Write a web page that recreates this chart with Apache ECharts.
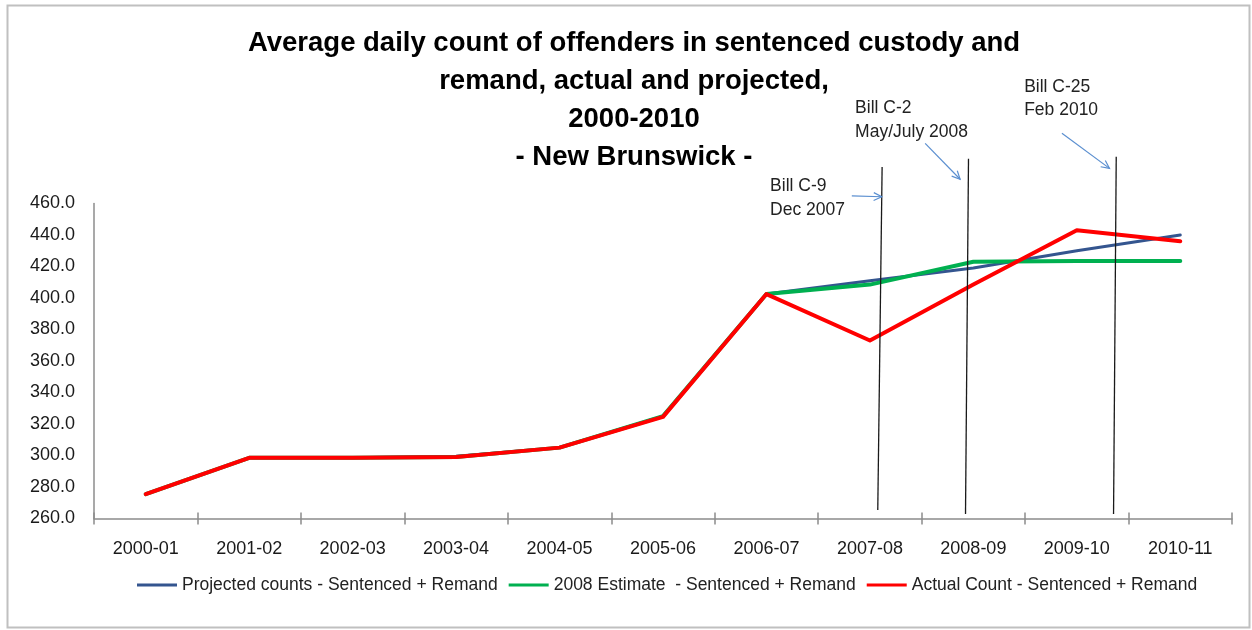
<!DOCTYPE html>
<html>
<head>
<meta charset="utf-8">
<script src="https://cdn.jsdelivr.net/npm/echarts@6/dist/echarts.min.js"></script>
<style>
html,body{margin:0;padding:0;background:#fff;}
#chart{width:1252px;height:630px;}
</style>
</head>
<body>
<div id="chart"></div>
<script>
// ---- data ----
var categories = ['2000-01','2001-02','2002-03','2003-04','2004-05','2005-06','2006-07','2007-08','2008-09','2009-10','2010-11'];
var projectedCounts = [275.5, 298.5, 298.5, 299.5, 305, 325, 402.5, 411, 419, 430, 440];
var estimate2008    = [275.5, 298.5, 298.5, 299, 305, 325, 402.5, 408.5, 423, 423.5, 423.5];
var actualCounts    = [275.5, 298.5, 298.5, 299, 305, 324.5, 402.5, 373, 408.5, 443, 436];
var seriesNames = ['Projected counts - Sentenced + Remand', '2008 Estimate  - Sentenced + Remand', 'Actual Count - Sentenced + Remand'];
var yTicks = {min: 260, max: 460, interval: 20};
var titleLines = ['Average daily count of offenders in sentenced custody and', 'remand, actual and projected,', '2000-2010', '- New Brunswick -'];
// annotation positions in data units (x = category index, y = value)
var billLines = [
  {bottom: [7.076, 265.4], top: [7.118, 483.2]},
  {bottom: [7.924, 262.9], top: [7.953, 488.4]},
  {bottom: [9.355, 262.9], top: [9.381, 489.7]}
];
var billArrows = [
  {from: [6.825, 464.8], to: [7.115, 464.3]},
  {from: [7.534, 498.2], to: [7.872, 475.4]},
  {from: [8.856, 504.6], to: [9.316, 482.3]}
];
var billLabels = [
  {lines: ['Bill C-9', 'Dec 2007'], at: [6.035, 463.3]},
  {lines: ['Bill C-2', 'May/July 2008'], at: [6.857, 513.0]},
  {lines: ['Bill C-25', 'Feb 2010'], at: [8.491, 526.5]}
];

var FONT = "'Liberation Sans', Arial, sans-serif";
var chart = echarts.init(document.getElementById('chart'));
var colors = ['#34558F', '#00B050', '#FF0000'];
var widths = [3, 4, 4];
var dataSets = [projectedCounts, estimate2008, actualCounts];

var option = {
  animation: false,
  backgroundColor: '#fff',
  title: {
    text: titleLines.join('\n'),
    left: 629, top: 20, textAlign: 'center',
    textStyle: {fontFamily: FONT, fontSize: 27.5, fontWeight: 'bold', color: '#000', lineHeight: 37.7}
  },
  legend: {
    data: seriesNames,
    left: 132, top: 571,
    icon: 'rect',
    itemWidth: 40, itemHeight: 3, itemGap: 11,
    textStyle: {fontFamily: FONT, fontSize: 17.5, color: '#222'}
  },
  grid: {left: 94, right: 20, top: 203.5, bottom: 111.5, containLabel: false},
  xAxis: [
    {
      type: 'category', data: categories, boundaryGap: true,
      axisLine: {onZero: false, lineStyle: {color: '#8c8c8c', width: 1.5}},
      axisTick: {show: true, length: 6, lineStyle: {color: '#8c8c8c', width: 1.5}},
      axisLabel: {fontFamily: FONT, fontSize: 18, color: '#1a1a1a', margin: 22}
    },
    {
      type: 'category', data: categories, boundaryGap: true, position: 'bottom',
      axisLine: {show: false, onZero: false},
      axisTick: {show: true, inside: true, length: 6, lineStyle: {color: '#8c8c8c', width: 1.5}},
      axisLabel: {show: false}
    },
    {type: 'value', min: -0.5, max: 10.5, show: false}
  ],
  yAxis: {
    type: 'value', min: yTicks.min, max: yTicks.max, interval: yTicks.interval,
    axisLine: {show: true, onZero: false, lineStyle: {color: '#8c8c8c', width: 1.5}},
    axisTick: {show: false},
    splitLine: {show: false},
    axisLabel: {fontFamily: FONT, fontSize: 18, color: '#1a1a1a', margin: 19,
      formatter: function (v) { return v.toFixed(1); }}
  },
  series: seriesNames.map(function (n, i) {
    return {
      name: n, type: 'line', data: dataSets[i], xAxisIndex: 0,
      symbol: 'none', showSymbol: false,
      lineStyle: {color: colors[i], width: widths[i], cap: 'round', join: 'round'},
      itemStyle: {color: colors[i]}, z: 2 + i
    };
  })
};
chart.setOption(option);

function px(p) {
  return [chart.convertToPixel({xAxisIndex: 2}, p[0]), chart.convertToPixel({yAxisIndex: 0}, p[1])];
}
var g = [];
// frame
g.push({type: 'rect', shape: {x: 7.5, y: 5.5, width: 1242, height: 622}, style: {fill: 'none', stroke: '#c0c0c0', lineWidth: 2}, silent: true, z: 0});
billLines.forEach(function (l) {
  var a = px(l.bottom), b = px(l.top);
  g.push({type: 'line', shape: {x1: a[0], y1: a[1], x2: b[0], y2: b[1]}, style: {stroke: '#1a1a1a', lineWidth: 1.3}, silent: true, z: 20});
});
billArrows.forEach(function (ar) {
  var a = px(ar.from), b = px(ar.to);
  var ang = Math.atan2(b[1] - a[1], b[0] - a[0]);
  var hl = 9, hw = 0.45;
  var p1 = [b[0] - hl * Math.cos(ang - hw), b[1] - hl * Math.sin(ang - hw)];
  var p2 = [b[0] - hl * Math.cos(ang + hw), b[1] - hl * Math.sin(ang + hw)];
  g.push({type: 'line', shape: {x1: a[0], y1: a[1], x2: b[0], y2: b[1]}, style: {stroke: '#5b8fd0', lineWidth: 1.2}, silent: true, z: 20});
  g.push({type: 'polyline', shape: {points: [p1, b, p2]}, style: {stroke: '#5b8fd0', lineWidth: 1.2, fill: 'none'}, silent: true, z: 20});
});
billLabels.forEach(function (lb) {
  var p = px(lb.at);
  g.push({type: 'text', x: p[0], y: p[1], style: {text: lb.lines.join('\n'), fontFamily: FONT, fontSize: 17.5, lineHeight: 23.5, fill: '#222', align: 'left', verticalAlign: 'middle'}, silent: true, z: 20});
});
chart.setOption({graphic: g});
</script>
</body>
</html>
